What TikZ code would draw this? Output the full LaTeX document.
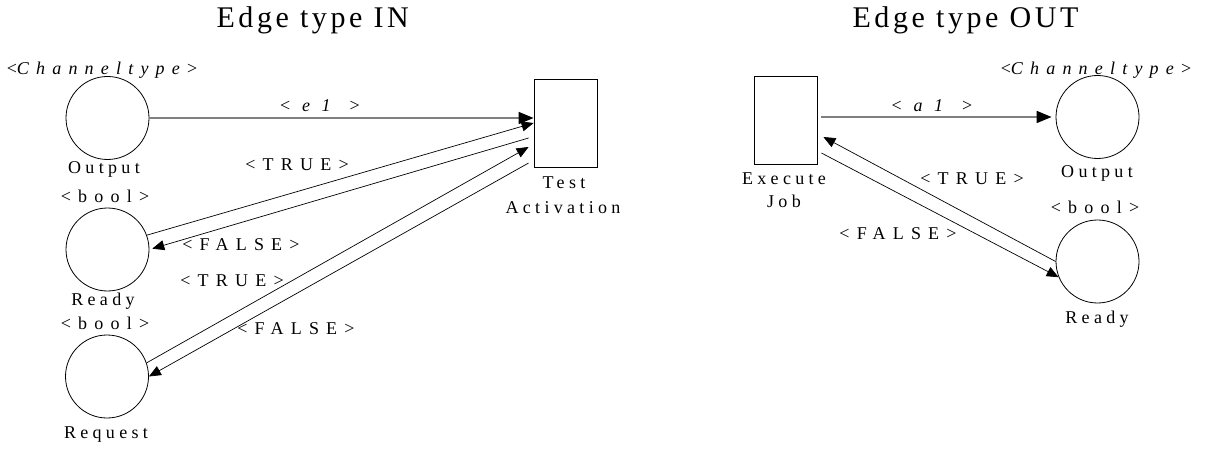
\documentclass[tikz,border=0pt]{standalone}
\usepackage{fontspec}
\setmainfont{Liberation Serif}
\newfontfamily\headfont[LetterSpace=12]{Liberation Serif}
\newfontfamily\lblfont[LetterSpace=24]{Liberation Serif}
\newfontfamily\tagfont[LetterSpace=40]{Liberation Serif}
\usetikzlibrary{arrows.meta,calc}

\begin{document}
\begin{tikzpicture}[x=1pt,y=1pt,
    place/.style={circle,draw,minimum size=83pt,inner sep=0pt,line width=0.8pt},
    trans/.style={rectangle,draw,minimum width=63pt,minimum height=88pt,inner sep=0pt,line width=0.8pt},
    heading/.style={anchor=base west,font=\headfont\fontsize{30}{34}\selectfont},
    lbl/.style={anchor=base,inner sep=0pt,font=\lblfont\fontsize{18}{20}\selectfont},
    tag/.style={anchor=base,inner sep=0pt,font=\tagfont\fontsize{18}{20}\selectfont},
    flow/.style={-{Triangle[length=12pt,width=10pt]},line width=0.7pt},
    tokflow/.style={draw=gray,-{Triangle[length=15pt,width=12pt,color=black]},line width=1.6pt}]
        \useasboundingbox (0,0) rectangle (1206,453);
        % edge type IN
        \node[heading] (headin) at (213,425) {Edge type IN};
        \node[place] (outl) at (107.5,335) {};
        \node[place] (readyl) at (107.5,203.5) {};
        \node[place] (reql) at (107,76.5) {};
        \node[trans] (test) at (565.5,330) {};
        \node[tag] (chanl) at (102,378) {<\textit{Channeltype}>};
        \node[lbl] (outlname) at (104,279) {Output};
        \node[tag] (booll) at (105,251) {<bool>};
        \node[lbl] (readylname) at (103,148) {Ready};
        \node[tag] (boolreq) at (105,124) {<bool>};
        \node[lbl] (reqname) at (106,15) {Request};
        \node[lbl] (testname) at (564,265) {Test};
        \node[lbl] (actname) at (563,240) {Activation};
        \draw[tokflow] (outl.east) -- (outl.east -| test.west);
        \draw[flow] (readyl.20) -- (test.west);
        \draw[flow,shorten >=3pt] ($(test.west)+(-5,-15)$) -- (readyl.east);
        \draw[flow] (reql.19) -- ($(test.west)+(-5,-24)$);
        \draw[flow] ($(test.west)+(-5,-40)$) -- (reql.east);
        \node[tag] (e1) at (320,341) {< \textit{e 1} >};
        \node[tag] (truel) at (297,282) {<TRUE>};
        \node[tag] (falsel) at (241,203) {<FALSE>};
        \node[tag] (truereq) at (232,167) {<TRUE>};
        \node[tag] (falsereq) at (296,119) {<FALSE>};
        % edge type OUT
        \node[heading] (headout) at (849,425) {Edge type OUT};
        \node[trans] (job) at (785.5,333) {};
        \node[place] (outr) at (1097.5,336) {};
        \node[place] (readyr) at (1097.5,191.5) {};
        \node[lbl] (execname) at (784,269) {Execute};
        \node[lbl] (jobname) at (784,245) {Job};
        \node[tag] (chanr) at (1096,378) {<\textit{Channeltype}>};
        \node[lbl] (outrname) at (1097,275) {Output};
        \node[tag] (boolr) at (1095,240) {<bool>};
        \node[lbl] (readyrname) at (1097,130) {Ready};
        \draw[tokflow,shorten >=4pt] ($(job.east |- outr.west)+(4,0)$) -- (outr.west);
        \draw[flow] (readyr.west) -- ($(job.east)+(6,-17)$);
        \draw[flow] ($(job.east)+(4,-33)$) -- (readyr.202);
        \node[tag] (a1) at (932,341) {< \textit{a 1} >};
        \node[tag] (truer) at (972,268) {<TRUE>};
        \node[tag] (falser) at (898,214) {<FALSE>};
    \end{tikzpicture}
\end{document}
